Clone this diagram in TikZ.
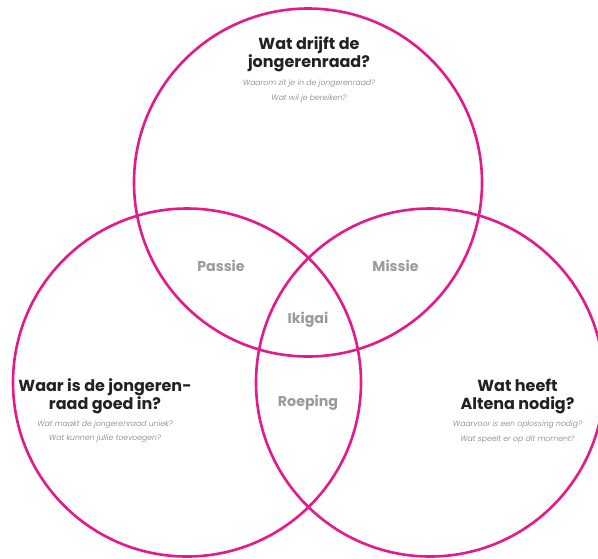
\documentclass[tikz,border=0pt]{standalone}
\usepackage{fontspec}
\setmainfont{Poppins}
\newfontfamily\headfont{Poppins}[UprightFont=* Bold]
\newfontfamily\subfont{Poppins}[UprightFont=* Light, ItalicFont=* Light Italic]
\usepackage{tikz}
\usepackage{xcolor}
\definecolor{ringpink}{HTML}{E6198A}
\definecolor{labelgray}{HTML}{9A9A9A}
\definecolor{subgray}{HTML}{7E7E7E}
\definecolor{headblack}{HTML}{222222}

\begin{document}
\begin{tikzpicture}[x=1pt, y=-1pt,
    ring/.style={line width=2.6pt, color=ringpink},
    question/.style={align=center, text=headblack, font=\headfont\fontsize{16}{18}\selectfont, inner sep=0pt},
    hint/.style={align=center, text=subgray, font=\subfont\itshape\fontsize{7.7}{14.6}\selectfont, inner sep=0pt},
    overlap/.style={text=labelgray, font=\headfont\fontsize{14.2}{16}\selectfont, inner sep=0pt}]
    \useasboundingbox (0,0) rectangle (598,558);

    \coordinate (T) at (308,182.5);
    \coordinate (L) at (187,382.5);
    \coordinate (R) at (430,382.5);

    % Three circles
    \draw[ring] (T) circle (174);
    \draw[ring] (L) circle (174);
    \draw[ring] (R) circle (174);

    % Questions per circle
    \node[question] (qtop) at (309,54) {Wat drijft de\\jongerenraad?};
    \node[hint] (htop) at (309,91.3) {Waarom zit je in de jongerenraad?\\Wat wil je bereiken?};

    \node[question] (qleft) at (105,396) {Waar is de jongeren-\\raad goed in?};
    \node[hint] (hleft) at (105,431.8) {Wat maakt de jongerenraad uniek?\\Wat kunnen jullie toevoegen?};

    \node[question] (qright) at (517.5,396) {Wat heeft\\Altena nodig?};
    \node[hint] (hright) at (517.5,431.8) {Waarvoor is een oplossing nodig?\\Wat speelt er op dit moment?};

    % Overlaps
    \node[overlap] (passie) at (221,266) {Passie};
    \node[overlap] (missie) at (395.5,265.5) {Missie};
    \node[overlap] (ikigai) at (308,319.5) {Ikigai};
    \node[overlap] (roeping) at (308,403) {Roeping};
\end{tikzpicture}
\end{document}
